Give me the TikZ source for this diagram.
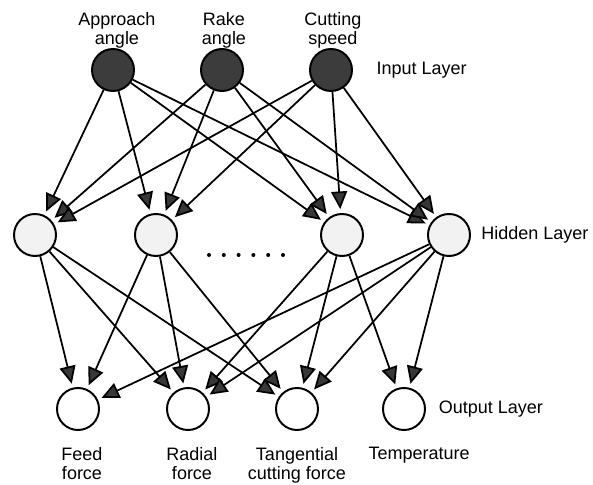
\documentclass[tikz,border=0pt]{standalone}
\usepackage{fontspec}
\setmainfont{Liberation Sans}
\usetikzlibrary{arrows.meta,positioning}
\definecolor{inputfill}{RGB}{60,60,60}
\definecolor{hiddenfill}{RGB}{242,242,242}
\definecolor{tipfill}{RGB}{55,55,55}

\begin{document}
\begin{tikzpicture}[
    neuron/.style={circle, draw, line width=1.4pt, minimum size=1.05cm, inner sep=0pt},
    inneuron/.style={neuron, fill=inputfill},
    hidneuron/.style={neuron, fill=hiddenfill},
    outneuron/.style={neuron, fill=white},
    txt/.style={font=\fontsize{12.8}{13.8}\selectfont, align=center, inner sep=1pt},
    link/.style={line width=1.25pt, -{Triangle[length=4.4mm,width=4mm,fill=tipfill]}, shorten >=0.1cm}
]
\fill[white] (0,0) rectangle (14.825,12.05);

% input layer
\node[inneuron] (in1) at (2.825,10.3) {};
\node[inneuron] (in2) at (5.55,10.3) {};
\node[inneuron] (in3) at (8.275,10.3) {};
\node[txt, above=-0.06cm of in1, xshift=0.1cm] (lblin1) {Approach\\angle};
\node[txt, above=-0.06cm of in2, xshift=0.05cm] (lblin2) {Rake\\angle};
\node[txt, above=-0.06cm of in3, xshift=0.05cm] (lblin3) {Cutting\\speed};
\node[txt, right=0.55cm of in3] (inlayer) {Input Layer};

% hidden layer
\node[hidneuron] (hid1) at (0.875,6.175) {};
\node[hidneuron] (hid2) at (3.9,6.175) {};
\node[hidneuron] (hid3) at (8.55,6.175) {};
\node[hidneuron] (hid4) at (11.225,6.175) {};
\node[txt, right=0.22cm of hid4] (hidlayer) {Hidden Layer};
\foreach \k in {0,...,5}
    \fill (5.225+\k*0.37,5.675) circle (0.05);

% output layer
\node[outneuron] (out1) at (1.95,1.825) {};
\node[outneuron] (out2) at (4.7,1.825) {};
\node[outneuron] (out3) at (7.425,1.825) {};
\node[outneuron] (out4) at (10.1,1.825) {};
\node[txt, right=0.28cm of out4] (outlayer) {Output Layer};
\node[txt, below=0.36cm of out1, xshift=0.1cm] (lblout1) {Feed\\force};
\node[txt, below=0.36cm of out2, xshift=0.1cm] (lblout2) {Radial\\force};
\node[txt, below=0.36cm of out3] (lblout3) {Tangential\\cutting force};
\node[txt, below=0.36cm of out4, xshift=0.38cm] (lblout4) {Temperature};

% connections
\foreach \i in {1,2,3}
    \foreach \h in {1,...,4}
        \draw[link] (in\i) -- (hid\h);
\foreach \h/\o in {1/1,1/2,1/3,2/1,2/2,2/3,3/2,3/3,3/4,4/1,4/2,4/3,4/4}
    \draw[link] (hid\h) -- (out\o);
\end{tikzpicture}
\end{document}
